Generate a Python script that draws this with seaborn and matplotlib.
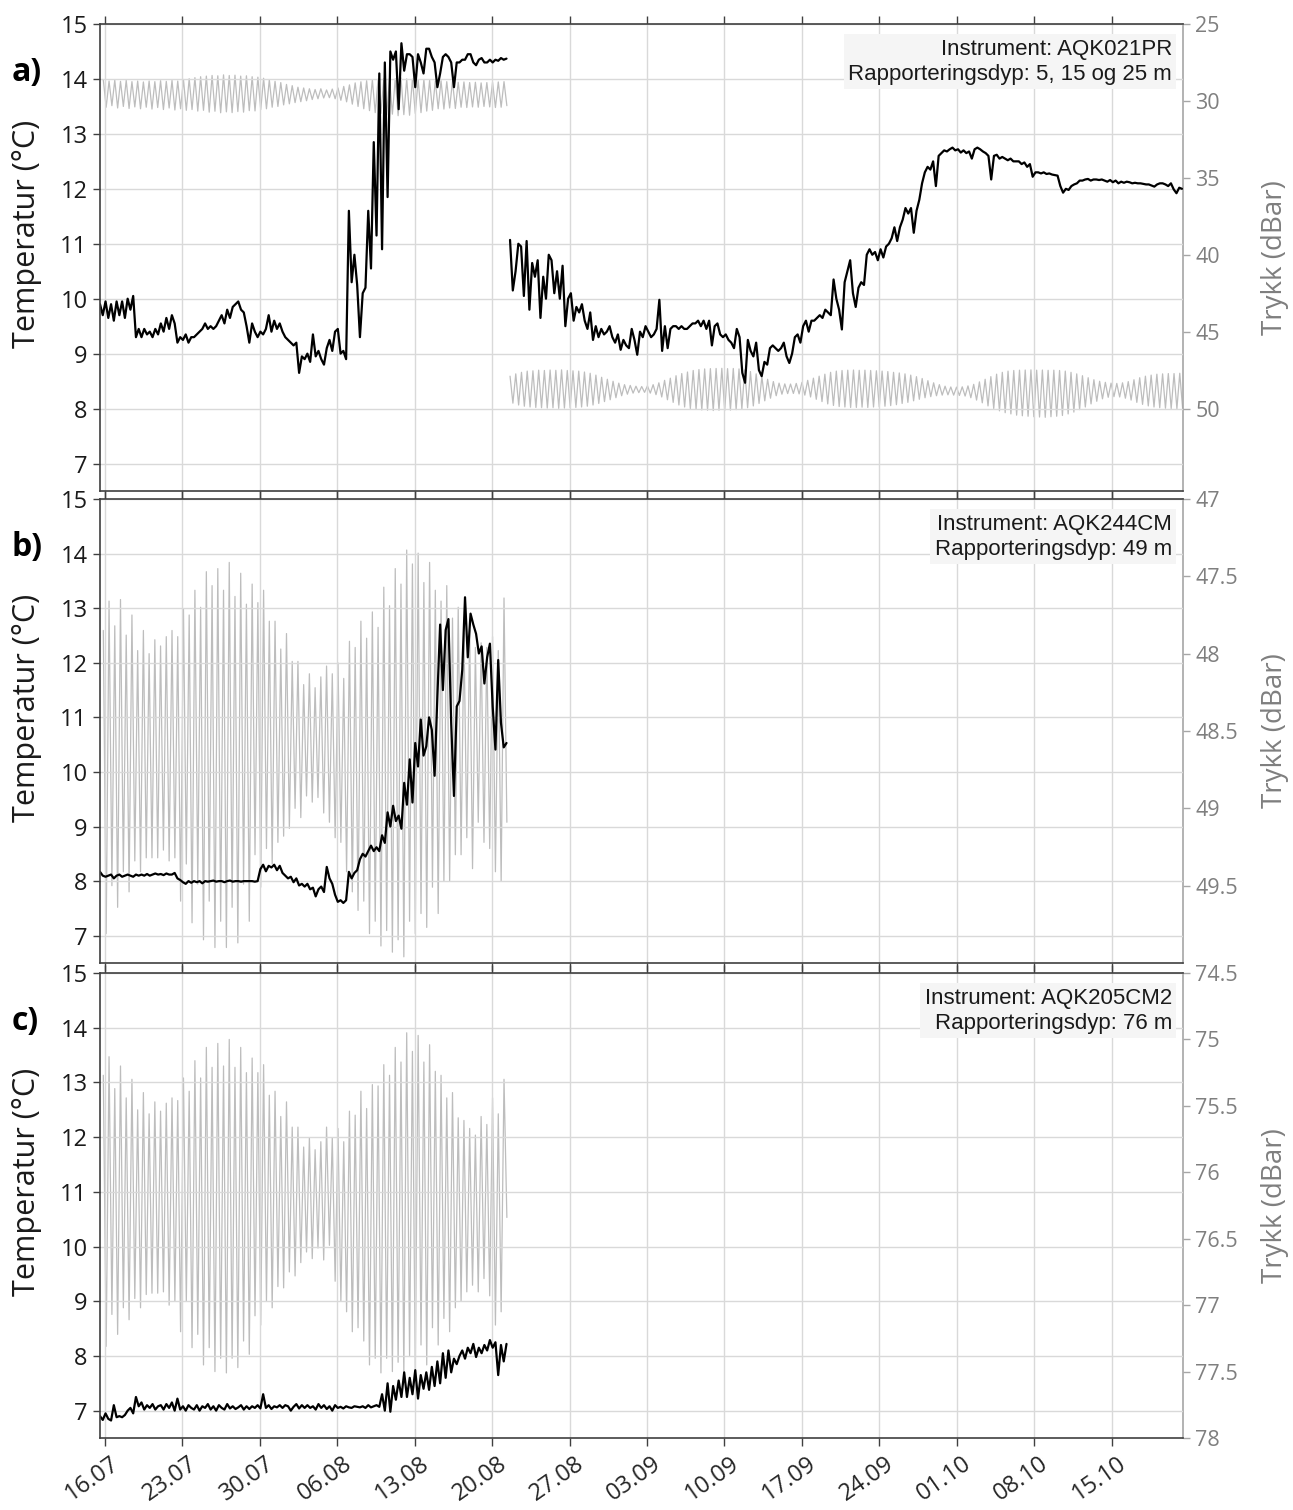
import numpy as np
import pandas as pd
import matplotlib
matplotlib.use("Agg")
import matplotlib.pyplot as plt
from matplotlib.transforms import ScaledTranslation, blended_transform_factory
import seaborn as sns

# ---------------------------------------------------------------------------
# Time base (days after T_REF) and sampling
# ---------------------------------------------------------------------------
T_REF = pd.Timestamp("2021-07-16")
X_MIN, X_MAX = -0.45, 97.46

TEMP_START_1 = -0.45     # first deployment, temperature (6-hourly)
TEMP_START_2 = 36.62     # second deployment, temperature (6-hourly)
TEMP_STEP = 0.25
TIDE_START_1 = -0.15     # first deployment, successive tidal extremes
TIDE_START_2 = 36.62     # second deployment, successive tidal extremes
TIDE_STEP = 0.25875      # half an M2 period

tick_labels = ["16.07", "23.07", "30.07", "06.08", "13.08", "20.08", "27.08",
               "03.09", "10.09", "17.09", "24.09", "01.10", "08.10", "15.10"]

# ---------------------------------------------------------------------------
# a) AQK021PR
# ---------------------------------------------------------------------------
temp_a1 = [
    9.9, 9.7,
    9.95, 9.65, 9.9, 9.6, 9.95, 9.7, 9.95, 9.65, 10.0, 9.8, 10.05, 9.3,
    9.45, 9.3, 9.45, 9.35, 9.4, 9.3, 9.45, 9.35, 9.55, 9.4, 9.65, 9.45,
    9.7, 9.55, 9.2, 9.3, 9.25, 9.35, 9.2, 9.3, 9.3, 9.35, 9.4, 9.45,
    9.55, 9.45, 9.5, 9.45, 9.5, 9.6, 9.7, 9.55, 9.8, 9.65, 9.85, 9.9,
    9.95, 9.8, 9.75, 9.5, 9.2, 9.55, 9.4, 9.3, 9.4, 9.35, 9.45, 9.7,
    9.4, 9.6, 9.45, 9.55, 9.4, 9.3, 9.25, 9.2, 9.15, 9.2, 8.65, 8.95,
    8.9, 9.0, 8.85, 9.35, 8.95, 9.05, 8.9, 8.8, 9.1, 9.25, 9.05, 9.4,
    9.45, 9.0, 9.05, 8.9, 11.6, 10.3, 10.8, 10.25, 9.3, 10.1, 10.2, 11.6,
    10.55, 12.85, 11.15, 14.1, 10.9, 14.3, 11.85, 14.5, 14.35, 14.5, 13.45, 14.65,
    14.15, 14.45, 14.45, 14.4, 13.85, 14.45, 14.3, 14.1, 14.55, 14.55, 14.4, 14.3,
    13.85, 14.1, 14.4, 14.45, 14.4, 14.3, 13.85, 14.3, 14.3, 14.35, 14.35, 14.45,
    14.45, 14.3, 14.25, 14.35, 14.38, 14.3, 14.3, 14.35, 14.3, 14.35, 14.33, 14.38,
    14.35, 14.37,
]
temp_a2 = [
    11.07, 10.15, 10.5, 11.0, 10.95, 10.05, 11.05, 9.8, 10.65, 10.4, 10.7, 9.65,
    10.4, 10.0, 10.8, 10.7, 10.1, 10.5, 10.0, 10.6, 9.5, 10.0, 10.1, 9.6,
    9.85, 9.75, 9.9, 9.6, 9.45, 9.75, 9.25, 9.5, 9.3, 9.45, 9.35, 9.4,
    9.5, 9.3, 9.2, 9.35, 9.07, 9.25, 9.15, 9.1, 9.45, 9.25, 8.98, 9.4,
    9.3, 9.5, 9.4, 9.3, 9.35, 9.45, 9.98, 9.05, 9.5, 9.1, 9.45, 9.5,
    9.5, 9.45, 9.5, 9.45, 9.45, 9.5, 9.55, 9.55, 9.6, 9.5, 9.6, 9.45,
    9.6, 9.15, 9.5, 9.55, 9.35, 9.3, 9.35, 9.25, 9.2, 9.1, 9.45, 9.3,
    8.65, 8.47, 9.25, 9.05, 8.95, 9.2, 8.7, 8.59, 8.85, 8.8, 9.1, 9.15,
    9.1, 9.05, 9.1, 9.2, 8.95, 8.83, 9.0, 9.3, 9.35, 9.2, 9.5, 9.6,
    9.4, 9.6, 9.6, 9.65, 9.7, 9.65, 9.8, 9.75, 9.7, 10.35, 10.0, 9.8,
    9.44, 10.3, 10.5, 10.7, 10.1, 9.85, 10.2, 10.3, 10.25, 10.8, 10.9, 10.8,
    10.85, 10.7, 10.9, 10.75, 10.95, 11.0, 11.1, 11.3, 11.05, 11.3, 11.44, 11.65,
    11.55, 11.65, 11.2, 11.6, 11.8, 12.1, 12.3, 12.4, 12.35, 12.5, 12.05, 12.6,
    12.65, 12.7, 12.68, 12.72, 12.75, 12.7, 12.72, 12.66, 12.7, 12.65, 12.68, 12.55,
    12.72, 12.75, 12.72, 12.68, 12.65, 12.6, 12.17, 12.6, 12.62, 12.55, 12.58, 12.55,
    12.52, 12.55, 12.5, 12.5, 12.5, 12.45, 12.48, 12.4, 12.45, 12.22, 12.3, 12.3,
    12.28, 12.3, 12.27, 12.28, 12.26, 12.25, 12.24, 12.05, 11.93, 12.0, 11.98, 12.05,
    12.08, 12.1, 12.15, 12.15, 12.17, 12.18, 12.15, 12.17, 12.17, 12.16, 12.17, 12.15,
    12.13, 12.16, 12.12, 12.15, 12.1, 12.13, 12.11, 12.13, 12.12, 12.1, 12.11, 12.1,
    12.1, 12.09, 12.08, 12.08, 12.06, 12.04, 12.08, 12.1, 12.1, 12.08, 12.05, 12.1,
    11.99, 11.92, 12.02, 12.0,
]
press_a1_low = [
    28.62, 28.70, 28.64, 28.72, 28.66, 28.74, 28.70, 28.76, 28.70, 28.74,
    28.68, 28.72, 28.66, 28.70, 28.60, 28.55, 28.48, 28.42, 28.38, 28.34,
    28.36, 28.30, 28.34, 28.32, 28.38, 28.36, 28.42, 28.45, 28.52, 28.62,
    28.72, 28.80, 28.92, 29.00, 29.10, 29.15, 29.20, 29.25, 29.20, 29.28,
    29.22, 29.15, 29.05, 28.95, 28.82, 28.75, 28.68, 28.62, 28.58, 28.55,
    28.52, 28.55, 28.50, 28.56, 28.58, 28.62, 28.60, 28.66, 28.70, 28.68,
    28.74, 28.72, 28.78, 28.76, 28.80, 28.78, 28.82, 28.80, 28.78, 28.76,
    28.74,
]
press_a1_high = [
    30.40, 30.30, 30.45, 30.35, 30.48, 30.38, 30.50, 30.40, 30.52, 30.42,
    30.55, 30.45, 30.58, 30.50, 30.60, 30.55, 30.65, 30.60, 30.72, 30.66,
    30.76, 30.70, 30.75, 30.68, 30.72, 30.62, 30.64, 30.55, 30.50, 30.40,
    30.35, 30.25, 30.18, 30.10, 30.04, 29.98, 29.90, 29.85, 29.80, 29.78,
    29.85, 29.95, 30.05, 30.20, 30.35, 30.50, 30.62, 30.75, 30.80, 30.90,
    30.85, 30.95, 30.88, 30.92, 30.80, 30.75, 30.65, 30.60, 30.50, 30.52,
    30.45, 30.48, 30.40, 30.42, 30.38, 30.40, 30.35, 30.38, 30.42, 30.40,
    30.30,
]
press_a2_low = [
    47.85, 47.70, 47.60, 47.52, 47.50, 47.46, 47.48, 47.45, 47.47, 47.44,
    47.48, 47.50, 47.52, 47.58, 47.66, 47.78, 47.92, 48.05, 48.18, 48.30,
    48.40, 48.45, 48.50, 48.52, 48.48, 48.40, 48.28, 48.12, 47.98, 47.82,
    47.68, 47.58, 47.48, 47.42, 47.38, 47.36, 47.35, 47.34, 47.36, 47.35,
    47.38, 47.44, 47.55, 47.70, 47.88, 48.05, 48.20, 48.30, 48.35, 48.36,
    48.32, 48.25, 48.12, 47.98, 47.85, 47.72, 47.60, 47.52, 47.48, 47.46,
    47.45, 47.47, 47.46, 47.48, 47.50, 47.52, 47.55, 47.60, 47.64, 47.70,
    47.78, 47.88, 48.00, 48.14, 48.28, 48.40, 48.50, 48.55, 48.56, 48.54,
    48.48, 48.38, 48.22, 48.05, 47.88, 47.72, 47.60, 47.52, 47.48, 47.46,
    47.45, 47.44, 47.46, 47.45, 47.47, 47.46, 47.48, 47.52, 47.60, 47.70,
    47.82, 47.95, 48.08, 48.18, 48.25, 48.30, 48.32, 48.28, 48.20, 48.08,
    47.95, 47.85, 47.78, 47.72, 47.70, 47.68, 47.68, 47.66,
]
press_a2_high = [
    49.60, 49.72, 49.80, 49.85, 49.88, 49.90, 49.92, 49.90, 49.94, 49.92,
    49.90, 49.88, 49.85, 49.80, 49.72, 49.62, 49.50, 49.38, 49.25, 49.12,
    49.02, 48.95, 48.92, 48.90, 48.95, 49.05, 49.20, 49.38, 49.55, 49.72,
    49.85, 49.95, 50.00, 50.04, 50.06, 50.08, 50.06, 50.08, 50.05, 50.02,
    49.98, 49.90, 49.78, 49.62, 49.45, 49.28, 49.12, 49.02, 48.98, 48.97,
    49.00, 49.08, 49.20, 49.35, 49.50, 49.65, 49.75, 49.82, 49.85, 49.88,
    49.88, 49.86, 49.88, 49.85, 49.84, 49.80, 49.76, 49.70, 49.62, 49.55,
    49.45, 49.35, 49.25, 49.18, 49.12, 49.08, 49.06, 49.08, 49.10, 49.14,
    49.25, 49.40, 49.58, 49.78, 49.95, 50.10, 50.22, 50.30, 50.38, 50.42,
    50.45, 50.48, 50.50, 50.52, 50.48, 50.45, 50.40, 50.30, 50.18, 50.02,
    49.85, 49.65, 49.48, 49.32, 49.22, 49.18, 49.20, 49.28, 49.40, 49.55,
    49.68, 49.78, 49.85, 49.90, 49.93, 49.95, 49.96, 49.95,
]

# ---------------------------------------------------------------------------
# b) AQK244CM
# ---------------------------------------------------------------------------
temp_b = [
    8.17, 8.1,
    8.08, 8.1, 8.12, 8.05, 8.1, 8.12, 8.08, 8.1, 8.12, 8.1, 8.08, 8.12,
    8.1, 8.12, 8.1, 8.13, 8.1, 8.12, 8.14, 8.12, 8.13, 8.11, 8.14, 8.12,
    8.12, 8.15, 8.05, 8.02, 7.98, 7.95, 8.0, 7.97, 8.0, 7.98, 8.0, 7.96,
    8.0, 7.99, 8.0, 8.01, 7.99, 8.0, 8.0, 7.98, 8.0, 8.01, 7.99, 8.0,
    8.0, 7.99, 8.0, 8.0, 8.0, 8.0, 7.99, 8.0, 8.22, 8.3, 8.18, 8.28,
    8.25, 8.3, 8.2, 8.28, 8.15, 8.1, 8.05, 8.08, 7.98, 8.05, 7.92, 7.95,
    7.9, 7.95, 7.85, 7.88, 7.72, 7.85, 7.9, 7.8, 8.26, 8.05, 7.95, 7.75,
    7.62, 7.65, 7.6, 7.65, 8.17, 8.05, 8.15, 8.2, 8.4, 8.5, 8.45, 8.55,
    8.65, 8.55, 8.62, 8.55, 8.84, 8.7, 9.26, 9.0, 9.38, 9.1, 9.2, 8.96,
    9.8, 9.4, 10.23, 9.44, 10.53, 10.1, 10.96, 10.3, 10.47, 11.0, 10.77, 9.93,
    11.38, 12.7, 11.5, 12.6, 12.8, 10.9, 9.56, 11.2, 11.3, 11.87, 13.2, 12.1,
    12.9, 12.7, 12.53, 12.17, 12.3, 11.62, 12.1, 12.35, 11.2, 10.41, 12.05, 10.9,
    10.45, 10.53,
]
press_b_low = [
    47.85, 47.66, 47.82, 47.65, 47.88, 47.75, 47.98, 47.85, 48.00, 47.91,
    47.95, 47.89, 47.85, 47.89, 47.71, 47.75, 47.59, 47.70, 47.47, 47.56,
    47.45, 47.59, 47.41, 47.63, 47.48, 47.68, 47.55, 47.67, 47.59, 47.79,
    47.79, 47.97, 47.87, 48.05, 48.05, 48.20, 48.13, 48.22, 48.15, 48.08,
    48.13, 48.06, 48.16, 47.92, 47.96, 47.79, 47.90, 47.73, 47.83, 47.57,
    47.69, 47.45, 47.55, 47.33, 47.42, 47.35, 47.54, 47.41, 47.59, 47.66,
    47.56, 47.77, 47.70, 47.87, 47.85, 47.96, 47.93, 47.96, 47.89, 47.98,
    47.64,
]
press_b_high = [
    49.81, 49.50, 49.64, 49.41, 49.54, 49.34, 49.41, 49.32, 49.32, 49.32,
    49.27, 49.34, 49.32, 49.60, 49.36, 49.74, 49.49, 49.85, 49.60, 49.90,
    49.73, 49.90, 49.64, 49.87, 49.49, 49.73, 49.30, 49.51, 49.26, 49.36,
    49.22, 49.18, 49.13, 49.00, 49.06, 48.92, 48.96, 48.93, 49.03, 49.09,
    49.19, 49.22, 49.41, 49.54, 49.66, 49.60, 49.81, 49.73, 49.89, 49.79,
    49.93, 49.85, 49.96, 49.73, 49.81, 49.68, 49.77, 49.51, 49.68, 49.47,
    49.47, 49.30, 49.30, 49.19, 49.39, 49.09, 49.22, 49.26, 49.41, 49.47,
    49.09,
]

# ---------------------------------------------------------------------------
# c) AQK205CM2
# ---------------------------------------------------------------------------
temp_c = [
    6.9, 6.83,
    6.95, 6.85, 6.82, 7.1, 6.88, 6.9, 6.88, 6.92, 7.0, 7.05, 6.95, 7.25,
    7.08, 7.15, 7.02, 7.1, 7.05, 7.12, 7.02, 7.08, 7.1, 7.02, 7.12, 7.05,
    7.15, 7.0, 7.22, 7.02, 7.08, 7.0, 7.1, 7.05, 7.02, 7.1, 7.0, 7.08,
    7.05, 7.12, 7.02, 7.08, 7.0, 7.1, 7.05, 7.02, 7.12, 7.04, 7.08, 7.03,
    7.06, 7.1, 7.02, 7.08, 7.03, 7.08, 7.05, 7.1, 7.04, 7.3, 7.05, 7.1,
    7.03, 7.08, 7.06, 7.1, 7.05, 7.1, 7.08, 7.0, 7.07, 7.12, 7.04, 7.1,
    7.05, 7.1, 7.05, 7.08, 7.02, 7.12, 7.05, 7.1, 7.03, 7.08, 7.0, 7.1,
    7.05, 7.07, 7.04, 7.08, 7.06, 7.05, 7.08, 7.07, 7.06, 7.08, 7.05, 7.1,
    7.06, 7.08, 7.1, 7.07, 7.3, 7.0, 7.5, 6.98, 7.45, 7.2, 7.55, 7.25,
    7.7, 7.25, 7.6, 7.3, 7.74, 7.22, 7.65, 7.4, 7.7, 7.38, 7.8, 7.45,
    7.9, 7.5, 8.05, 7.6, 8.1, 7.7, 7.95, 7.85, 8.0, 8.1, 7.95, 8.15,
    8.05, 8.22, 7.98, 8.15, 8.05, 8.2, 8.1, 8.29, 8.15, 8.25, 7.65, 8.2,
    7.9, 8.22,
]
press_c_low = [
    75.27, 75.13, 75.37, 75.20, 75.44, 75.30, 75.53, 75.40, 75.56, 75.47,
    75.54, 75.48, 75.44, 75.46, 75.29, 75.39, 75.16, 75.29, 75.06, 75.21,
    75.03, 75.20, 75.00, 75.21, 75.06, 75.25, 75.14, 75.25, 75.19, 75.42,
    75.39, 75.58, 75.47, 75.66, 75.66, 75.81, 75.74, 75.83, 75.77, 75.66,
    75.74, 75.67, 75.77, 75.54, 75.57, 75.39, 75.52, 75.34, 75.35, 75.19,
    75.27, 75.06, 75.17, 74.95, 75.09, 74.97, 75.17, 75.04, 75.24, 75.27,
    75.44, 75.40, 75.59, 75.61, 75.67, 75.72, 75.58, 75.64, 75.44, 75.56,
    75.30,
]
press_c_high = [
    77.31, 77.07, 77.22, 77.02, 77.11, 76.95, 77.02, 76.92, 76.91, 76.91,
    76.90, 77.00, 76.97, 77.20, 76.97, 77.32, 77.22, 77.45, 77.32, 77.50,
    77.40, 77.51, 77.40, 77.47, 77.27, 77.37, 77.08, 77.15, 76.97, 77.02,
    76.86, 76.87, 76.75, 76.78, 76.68, 76.60, 76.65, 76.57, 76.66, 76.55,
    76.82, 76.97, 77.05, 77.20, 77.17, 77.27, 77.45, 77.40, 77.51, 77.40,
    77.50, 77.43, 77.52, 77.38, 77.48, 77.30, 77.45, 77.17, 77.30, 77.10,
    77.20, 77.02, 76.97, 76.90, 76.85, 76.90, 76.80, 76.93, 77.15, 77.05,
    76.34,
]

instrument_texts = [
    "Instrument: AQK021PR\nRapporteringsdyp: 5, 15 og 25 m",
    "Instrument: AQK244CM\nRapporteringsdyp: 49 m",
    "Instrument: AQK205CM2\nRapporteringsdyp: 76 m",
]
panel_letters = ["a)", "b)", "c)"]

temp_ticks = [7, 8, 9, 10, 11, 12, 13, 14, 15]
press_ticks = [
    [25, 30, 35, 40, 45, 50],
    [47, 47.5, 48, 48.5, 49, 49.5],
    [74.5, 75, 75.5, 76, 76.5, 77, 77.5, 78],
]
press_limits = [(55.3, 25), (50, 47), (78, 74.5)]

# ---------------------------------------------------------------------------
# Styling
# ---------------------------------------------------------------------------
sns.set_style("white")
plt.rcParams["font.family"] = ["Open Sans", "DejaVu Sans"]

BLACK = "#000000"
GREY_LINE = "#bdbdbd"
GREY_TEXT = "#7f7f7f"
GRID = "#d9d9d9"

W, H = 1293, 1510
fig = plt.figure(figsize=(W / 100, H / 100), dpi=100)

panel_px = [(24, 491), (499, 963), (973, 1438)]   # top / bottom in pixels
left_px, right_px = 100, 1183


def day_times(start, step, n):
    return T_REF + pd.to_timedelta(start + step * np.arange(n), unit="D")


def draw(ax, start, step, values, color, lw):
    times = day_times(start, step, len(values))
    sns.lineplot(x=times, y=np.asarray(values, dtype=float), ax=ax,
                 color=color, linewidth=lw, estimator=None, errorbar=None)


def tide(low, high):
    return np.column_stack([low, high]).ravel()


temp_series = [
    [(TEMP_START_1, temp_a1), (TEMP_START_2, temp_a2)],
    [(TEMP_START_1, temp_b)],
    [(TEMP_START_1, temp_c)],
]
press_series = [
    [(TIDE_START_1, tide(press_a1_low, press_a1_high)),
     (TIDE_START_2, tide(press_a2_low, press_a2_high))],
    [(TIDE_START_1, tide(press_b_low, press_b_high))],
    [(TIDE_START_1, tide(press_c_low, press_c_high))],
]

tick_dates = [pd.Timestamp(f"2021-{s[3:5]}-{s[0:2]}") for s in tick_labels]
x_lo = T_REF + pd.Timedelta(days=X_MIN)
x_hi = T_REF + pd.Timedelta(days=X_MAX)

axes = []
for i in range(3):
    top, bot = panel_px[i]
    rect = [left_px / W, 1 - bot / H, (right_px - left_px) / W, (bot - top) / H]
    ax = fig.add_axes(rect)
    ax2 = ax.twinx()
    ax.set_zorder(ax2.get_zorder() + 1)
    ax.patch.set_visible(False)

    for start, vals in press_series[i]:
        draw(ax2, start, TIDE_STEP, vals, GREY_LINE, 0.9)
    for start, vals in temp_series[i]:
        draw(ax, start, TEMP_STEP, vals, BLACK, 1.6)

    ax.set_xlim(x_lo, x_hi)
    ax.set_ylim(6.5, 15)
    ax2.set_ylim(*press_limits[i])

    ax.set_yticks(temp_ticks)
    ax.set_yticklabels([str(t) for t in temp_ticks])
    ax2.set_yticks(press_ticks[i])
    ax2.set_yticklabels([f"{t:g}" for t in press_ticks[i]])

    ax.set_xticks(tick_dates)
    if i == 2:
        ax.set_xticklabels(tick_labels)
    else:
        ax.set_xticklabels([])

    ax.grid(True, color=GRID, linewidth=1.0)
    ax2.grid(False)

    ax.tick_params(axis="y", direction="out", length=5, width=1,
                   color="#404040", labelsize=17, pad=4, labelcolor="#1a1a1a")
    ax.tick_params(axis="x", which="both", direction="out", length=6, width=1,
                   color="#404040", top=True, bottom=True,
                   labelbottom=(i == 2), labelsize=17, pad=4)
    ax2.tick_params(axis="y", direction="out", length=5, width=1,
                    color="#a6a6a6", labelsize=15.5, labelcolor=GREY_TEXT, pad=4)

    for side in ("left", "top", "bottom"):
        ax.spines[side].set_color("#404040")
        ax.spines[side].set_linewidth(1.2)
    ax.spines["right"].set_visible(False)
    ax2.spines["right"].set_color("#a6a6a6")
    ax2.spines["right"].set_linewidth(1.2)
    for side in ("left", "top", "bottom"):
        ax2.spines[side].set_visible(False)

    ax.set_xlabel("")
    ax.set_ylabel("Temperatur (°C)", fontsize=22, color="#1a1a1a")
    ax.yaxis.set_label_coords(-0.054, 0.55)
    ax2.set_ylabel("Trykk (dBar)", fontsize=20, color=GREY_TEXT)
    ax2.yaxis.set_label_coords(1.072, 0.5)

    ax.text(0.9898, 0.968, instrument_texts[i], transform=ax.transAxes,
            ha="right", va="top", multialignment="right",
            family=["Liberation Sans", "DejaVu Sans"], fontsize=16,
            linespacing=1.25, color="#1a1a1a", zorder=5,
            bbox=dict(boxstyle="square,pad=0.2", fc="#f5f5f5", ec="none"))

    trans = blended_transform_factory(ax.transAxes, ax.transData)
    ax.text(-0.082, 14.12, panel_letters[i], transform=trans, ha="left",
            va="center", fontsize=23, fontweight="bold", color="#000000")

    axes.append(ax)

ax_c = axes[2]
for lbl in ax_c.get_xticklabels():
    lbl.set_rotation(35)
    lbl.set_ha("right")
    lbl.set_transform(lbl.get_transform() +
                      ScaledTranslation(0.19, 0, fig.dpi_scale_trans))

fig.savefig("out.png", dpi=100)
